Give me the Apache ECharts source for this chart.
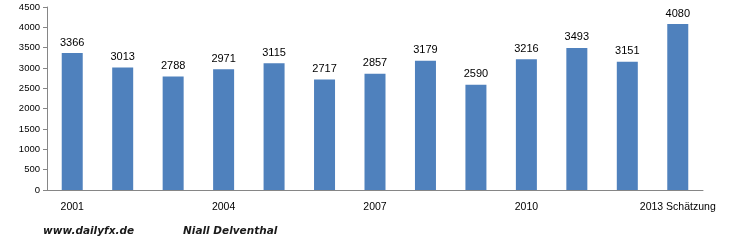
<!DOCTYPE html>
<html><head><meta charset="utf-8">
<script src="https://cdn.jsdelivr.net/npm/echarts@6/dist/echarts.min.js"></script>
<style>html,body{margin:0;padding:0;background:#fff}#c{width:731px;height:245px}</style>
</head><body><div id="c"></div>
<script>
const categories = ['2001','2002','2003','2004','2005','2006','2007','2008','2009','2010','2011','2012','2013 Schätzung'];
const values = [3366, 3013, 2788, 2971, 3115, 2717, 2857, 3179, 2590, 3216, 3493, 3151, 4080];
const yTicks = {min: 0, max: 4500, interval: 500};
const footerLeft = 'www.dailyfx.de';
const footerRight = 'Niall Delventhal';

const chart = echarts.init(document.getElementById('c'), null, {renderer: 'canvas'});
chart.setOption({
  animation: false,
  backgroundColor: '#fff',
  grid: {left: 47, right: 28, top: 7, bottom: 55},
  xAxis: {
    type: 'category', data: categories,
    axisLine: {lineStyle: {color: '#868686', width: 1}},
    axisTick: {show: false},
    axisLabel: {
      interval: 2, color: '#000', fontFamily: 'Liberation Sans', fontSize: 10.5, margin: 12
    }
  },
  yAxis: {
    type: 'value', min: yTicks.min, max: yTicks.max, interval: yTicks.interval,
    splitLine: {show: false},
    axisLine: {show: true, lineStyle: {color: '#868686'}},
    axisTick: {show: true, length: 4, lineStyle: {color: '#868686'}},
    axisLabel: {color: '#000', fontFamily: 'Liberation Sans', fontSize: 9.5, margin: 7,
      formatter: v => String(v)}
  },
  series: [{
    type: 'bar', data: values, barWidth: 21,
    itemStyle: {color: '#4F81BD'},
    label: {show: true, position: 'top', distance: 5, color: '#000', fontFamily: 'Liberation Sans', fontSize: 11}
  }],
  graphic: [
    {type: 'text', left: 43, top: 226, style: {text: footerLeft, font: 'italic bold 10.5px "DejaVu Sans"', fill: '#1a1a1a'}},
    {type: 'text', left: 183, top: 226, style: {text: footerRight, font: 'italic bold 10.5px "DejaVu Sans"', fill: '#1a1a1a'}}
  ]
});
</script></body></html>
